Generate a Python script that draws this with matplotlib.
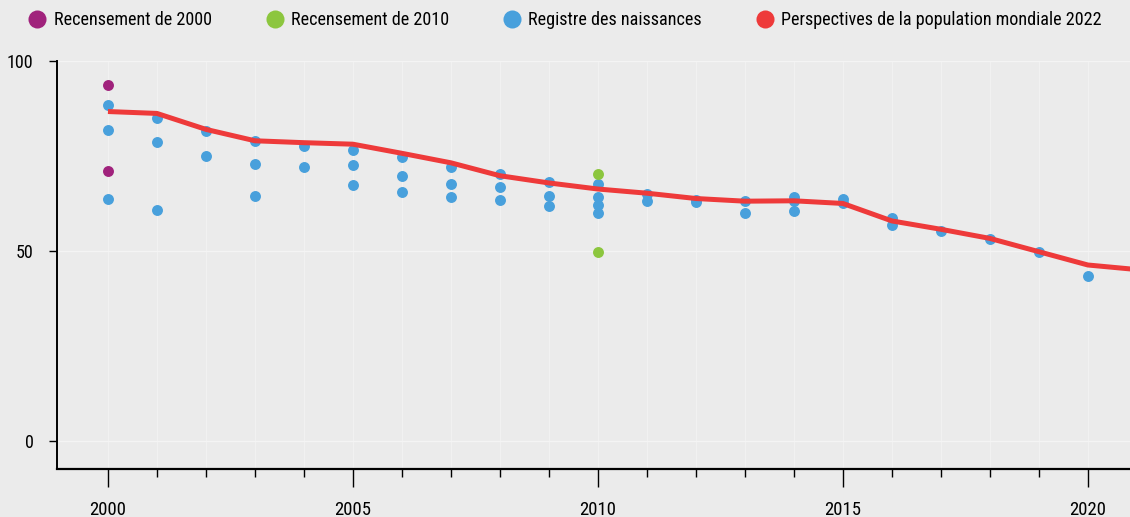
import matplotlib
matplotlib.use("Agg")
import matplotlib.pyplot as plt
from matplotlib.lines import Line2D
from matplotlib import font_manager

# --- data ---
census_2000_years = [2000, 2000]
census_2000_values = [93.6, 71.1]

census_2010_years = [2010, 2010]
census_2010_values = [70.2, 49.6]

registry_years = [
    2000, 2000, 2000,
    2001, 2001, 2001,
    2002, 2002,
    2003, 2003, 2003,
    2004, 2004,
    2005, 2005, 2005,
    2006, 2006, 2006,
    2007, 2007, 2007,
    2008, 2008, 2008,
    2009, 2009, 2009,
    2010, 2010, 2010, 2010,
    2011, 2011,
    2012, 2012,
    2013, 2013,
    2014, 2014, 2014,
    2015, 2015,
    2016, 2016,
    2017, 2018, 2019, 2020,
]
registry_values = [
    88.5, 81.8, 63.7,
    85.1, 78.6, 60.8,
    81.6, 74.9,
    78.9, 72.9, 64.4,
    77.7, 72.1,
    76.5, 72.6, 67.4,
    74.6, 69.6, 65.5,
    72.2, 67.6, 64.1,
    70.3, 66.9, 63.5,
    68.1, 64.5, 61.8,
    67.6, 64.1, 62.0, 59.9,
    64.9, 63.2,
    63.3, 62.9,
    63.2, 60.1,
    64.3, 63.2, 60.5,
    63.6, 62.7,
    58.6, 56.8,
    55.3, 53.2, 49.6, 43.4,
]

wpp_years = list(range(2000, 2022))
wpp_values = [86.7, 86.2, 82.0, 79.0, 78.5, 78.1, 75.7, 73.2, 69.8, 67.9,
              66.3, 65.2, 63.8, 63.1, 63.2, 62.5, 57.9, 55.7, 53.3, 49.8,
              46.3, 45.1]

y_ticks = [0, 50, 100]
x_ticks = [2000, 2005, 2010, 2015, 2020]
x_minor = list(range(2000, 2021))

labels = ["Recensement de 2000", "Recensement de 2010",
          "Registre des naissances", "Perspectives de la population mondiale 2022"]

PURPLE = "#a0227c"
GREEN = "#8cc63e"
BLUE = "#48a0dc"
RED = "#ee3a3a"
BG = "#ebebeb"

# condensed font if there is one
available = {f.name for f in font_manager.fontManager.ttflist}
family = "DejaVu Sans"
for cand in ["Liberation Sans Narrow", "Roboto Condensed", "Open Sans Condensed", "Roboto"]:
    if cand in available:
        family = cand
        break
plt.rcParams["font.family"] = [family, "DejaVu Sans"]

fig = plt.figure(figsize=(11.3, 5.17), dpi=100)
fig.patch.set_facecolor(BG)
ax = fig.add_axes([57 / 1130, 48 / 517, 1 - 57 / 1130, (469 - 61) / 517])
ax.set_facecolor(BG)

ax.plot(wpp_years, wpp_values, color=RED, lw=3.6, zorder=3, solid_capstyle="butt")
ax.scatter(registry_years, registry_values, s=62, color=BLUE, zorder=2, lw=0)
ax.scatter(census_2000_years, census_2000_values, s=62, color=PURPLE, zorder=2, lw=0)
ax.scatter(census_2010_years, census_2010_values, s=62, color=GREEN, zorder=2, lw=0)

ax.set_xlim(1998.96, 2020.86)
ax.set_ylim(-7.4, 100)

ax.set_yticks(y_ticks)
ax.set_xticks(x_ticks)
ax.set_xticks(x_minor, minor=True)
ax.tick_params(axis="y", length=6, width=1, pad=11, labelsize=13)
ax.tick_params(axis="x", which="major", length=13, width=1, pad=10, labelsize=13.5)
ax.tick_params(axis="x", which="minor", length=5.5, width=1)

ax.grid(True, axis="y", color="#f4f4f4", lw=1.0)
ax.grid(True, axis="x", which="both", color="#f1f1f1", lw=0.8)
ax.set_axisbelow(True)

for side in ["top", "right"]:
    ax.spines[side].set_visible(False)
ax.spines["left"].set_linewidth(1.4)
ax.spines["bottom"].set_linewidth(1.6)

handles = [Line2D([], [], ls="", marker="o", ms=13, color=c, mec="none")
           for c in [PURPLE, GREEN, BLUE, RED]]
fig.legend(handles, labels, loc="center left", bbox_to_anchor=(0.009, 0.961),
           ncol=4, frameon=False, fontsize=13.1, handletextpad=0.3,
           columnspacing=2.85, handlelength=1.2)

fig.savefig("out.png", dpi=100, facecolor=BG)
